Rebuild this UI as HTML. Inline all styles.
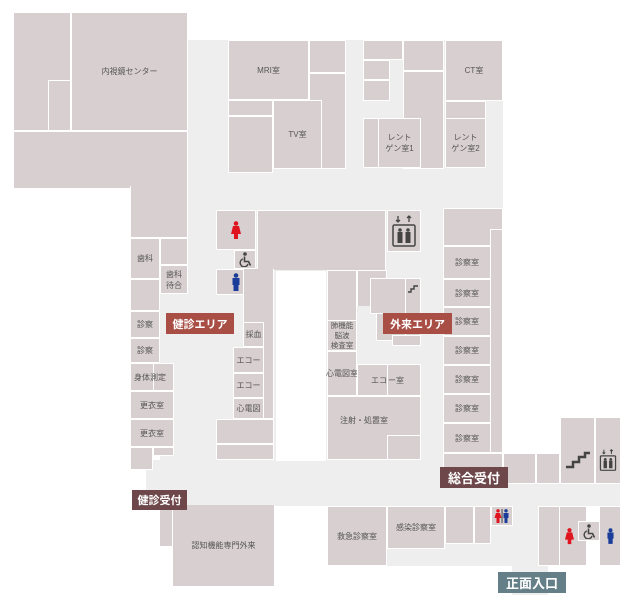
<!DOCTYPE html><html><head><meta charset="utf-8"><style>
body{margin:0;width:627px;height:605px;background:#fff;position:relative;overflow:hidden;font-family:"Liberation Sans","Noto Sans CJK JP",sans-serif}
div{position:absolute;box-sizing:border-box}
.g{background:#eeeeee}
.r{background:#d8cfd0;border:1px solid #fff;color:#555;font-size:8px;display:flex;align-items:center;justify-content:center;text-align:center;line-height:11px}
.w{background:#fff;border:1px solid #fff}
.l{color:#fff;font-size:11px;font-weight:bold;display:flex;align-items:center;justify-content:center}
</style></head><body>
<svg width="0" height="0" style="position:absolute"><defs><g id="wc"><circle cx="6" cy="2" r="1.8" fill="#444"/><path d="M5.5 4.5v5h4l2 4" stroke="#444" stroke-width="1.6" fill="none"/><path d="M4 7a4 4 0 1 0 5 5" stroke="#444" stroke-width="1.4" fill="none"/></g></defs></svg>
<div class="g" style="left:188px;top:40px;width:315px;height:425px"></div>
<div class="g" style="left:160px;top:292px;width:30px;height:175px"></div>
<div class="g" style="left:146px;top:460px;width:474px;height:46px"></div>
<div class="g" style="left:386px;top:505px;width:152px;height:61px"></div>
<div class="g" style="left:512px;top:565px;width:36px;height:30px"></div>

<div class="r" style="left:13px;top:131px;width:175px;height:58px"></div>
<div class="r" style="left:130px;top:186px;width:58px;height:52px;border-top:0"></div>
<div class="r" style="left:13px;top:12px;width:58px;height:119px"></div>
<div class="r" style="left:48px;top:80px;width:23px;height:51px"></div>
<div class="r" style="left:71px;top:12px;width:117px;height:119px">内視鏡センター</div>
<div class="r" style="left:130px;top:238px;width:30px;height:41px">歯科</div>
<div class="r" style="left:160px;top:238px;width:28px;height:27px"></div>
<div class="r" style="left:160px;top:265px;width:28px;height:29px">歯科<br>待合</div>
<div class="r" style="left:130px;top:279px;width:30px;height:32px"></div>
<div class="r" style="left:130px;top:311px;width:30px;height:27px">診察</div>
<div class="r" style="left:130px;top:338px;width:30px;height:25px">診察</div>
<div class="r" style="left:153px;top:363px;width:21px;height:28px"></div>
<div class="r" style="left:130px;top:363px;width:23px;height:28px;border-right:0"></div>
<div style="left:134px;top:372px;font-size:8px;color:#555;white-space:nowrap">身体測定</div>
<div class="r" style="left:130px;top:391px;width:44px;height:28px">更衣室</div>
<div class="r" style="left:130px;top:419px;width:44px;height:28px">更衣室</div>
<div class="r" style="left:130px;top:447px;width:23px;height:23px"></div>
<div class="r" style="left:153px;top:447px;width:21px;height:9px"></div>

<div class="r" style="left:228px;top:40px;width:81px;height:60px">MRI室</div>
<div class="r" style="left:309px;top:40px;width:37px;height:33px"></div>
<div class="r" style="left:309px;top:73px;width:37px;height:96px"></div>
<div class="r" style="left:228px;top:100px;width:45px;height:16px"></div>
<div class="r" style="left:228px;top:116px;width:45px;height:57px"></div>
<div class="r" style="left:273px;top:100px;width:49px;height:69px">TV室</div>
<div class="r" style="left:363px;top:40px;width:40px;height:20px"></div>
<div class="r" style="left:363px;top:60px;width:27px;height:20px"></div>
<div class="r" style="left:363px;top:80px;width:27px;height:21px"></div>
<div class="r" style="left:403px;top:40px;width:41px;height:31px"></div>
<div class="r" style="left:403px;top:71px;width:41px;height:98px"></div>
<div class="r" style="left:363px;top:118px;width:21px;height:50px"></div>
<div class="r" style="left:378px;top:118px;width:43px;height:50px">レント<br>ゲン室1</div>
<div class="r" style="left:445px;top:40px;width:58px;height:61px">CT室</div>
<div class="r" style="left:445px;top:101px;width:41px;height:18px"></div>
<div class="r" style="left:445px;top:118px;width:41px;height:50px">レント<br>ゲン室2</div>

<div class="r" style="left:216px;top:210px;width:40px;height:40px"><svg width="10" height="18" viewBox="0 0 10 18"><circle cx="5" cy="2.5" r="2.3" fill="#e0141e"/><path d="M2 5h6l2 8H7v5H3v-5H0z" fill="#e0141e"/></svg></div>
<div class="r" style="left:234px;top:250px;width:22px;height:19px"><svg width="13" height="15" viewBox="0 0 13 15"><use href="#wc"/></svg></div>
<div class="r" style="left:216px;top:269px;width:40px;height:26px"><svg width="8" height="18" viewBox="0 0 8 18"><circle cx="4" cy="2.5" r="2.3" fill="#1a3d9a"/><rect x="0.5" y="5" width="7" height="7" fill="#1a3d9a"/><rect x="1.5" y="11" width="5" height="7" fill="#1a3d9a"/></svg></div>
<div class="r" style="left:257px;top:210px;width:129px;height:60px;border-bottom:0"></div>
<div class="r" style="left:243px;top:269px;width:31px;height:150px;border-top:0"></div>
<div class="r" style="left:243px;top:322px;width:21px;height:25px">採血</div>
<div class="r" style="left:233px;top:347px;width:31px;height:26px">エコー</div>
<div class="r" style="left:233px;top:373px;width:31px;height:25px">エコー</div>
<div class="r" style="left:233px;top:398px;width:31px;height:21px">心電図</div>
<div class="r" style="left:216px;top:419px;width:58px;height:25px"></div>
<div class="r" style="left:216px;top:444px;width:58px;height:16px"></div>
<div class="w" style="left:276px;top:271px;width:50px;height:190px"></div>
<div class="r" style="left:327px;top:270px;width:30px;height:51px"></div>
<div class="r" style="left:327px;top:320px;width:30px;height:31px;font-size:7.5px;line-height:10px">肺機能<br>脳波<br>検査室</div>
<div class="r" style="left:327px;top:351px;width:30px;height:45px;white-space:nowrap">心電図室</div>
<div class="r" style="left:357px;top:270px;width:30px;height:36px;border-bottom:0"></div>
<div class="r" style="left:370px;top:278px;width:36px;height:36px"></div>
<div class="r" style="left:376px;top:313px;width:30px;height:28px"></div>
<div class="r" style="left:405px;top:278px;width:16px;height:58px;align-items:flex-start;padding-top:5px"><svg width="10" height="9" viewBox="0 0 10 9"><path d="M0 8h3V5h3V2h4" stroke="#444" stroke-width="1.4" fill="none"/></svg></div>
<div class="r" style="left:392px;top:335px;width:29px;height:11px"></div>
<div class="r" style="left:387px;top:210px;width:34px;height:42px"><svg width="24" height="32" viewBox="0 0 24 32"><path d="M6 1v6M4 5l2 2 2-2M17 7V1M15 3l2-2 2 2" stroke="#444" stroke-width="1.3" fill="none"/><rect x="1" y="10" width="22" height="21" rx="1.5" fill="none" stroke="#444" stroke-width="1.5"/><circle cx="8" cy="15" r="1.8" fill="#444"/><circle cx="16" cy="15" r="1.8" fill="#444"/><rect x="5.5" y="17" width="5" height="11" fill="#444"/><rect x="13.5" y="17" width="5" height="11" fill="#444"/></svg></div>
<div class="r" style="left:357px;top:364px;width:31px;height:32px;justify-content:flex-end">エコ</div>
<div class="r" style="left:387px;top:364px;width:34px;height:32px;justify-content:flex-start">ー室</div>
<div class="r" style="left:327px;top:396px;width:94px;height:64px;align-items:flex-start;padding-top:18px;padding-right:20px">注射・処置室</div>
<div class="r" style="left:387px;top:435px;width:34px;height:25px"></div>

<div class="r" style="left:443px;top:208px;width:60px;height:38px"></div>
<div class="r" style="left:490px;top:229px;width:13px;height:224px"></div>
<div class="r" style="left:443px;top:246px;width:48px;height:33px">診察室</div>
<div class="r" style="left:443px;top:279px;width:48px;height:28px">診察室</div>
<div class="r" style="left:443px;top:307px;width:48px;height:29px">診察室</div>
<div class="r" style="left:443px;top:336px;width:48px;height:29px">診察室</div>
<div class="r" style="left:443px;top:365px;width:48px;height:29px">診察室</div>
<div class="r" style="left:443px;top:394px;width:48px;height:29px">診察室</div>
<div class="r" style="left:443px;top:423px;width:48px;height:30px">診察室</div>
<div class="r" style="left:443px;top:453px;width:60px;height:31px"></div>
<div class="r" style="left:503px;top:453px;width:33px;height:31px"></div>
<div class="r" style="left:536px;top:453px;width:24px;height:31px"></div>
<div class="r" style="left:560px;top:417px;width:35px;height:67px;padding-top:18px"><svg width="26" height="18" viewBox="0 0 26 18"><path d="M1 16h7v-5h6V6h6V2h5" stroke="#444" stroke-width="2.5" fill="none"/></svg></div>
<div class="r" style="left:595px;top:417px;width:26px;height:67px;padding-top:18px"><svg width="18" height="22" viewBox="0 0 24 32"><path d="M6 1v6M4 5l2 2 2-2M17 7V1M15 3l2-2 2 2" stroke="#444" stroke-width="1.5" fill="none"/><rect x="1" y="10" width="22" height="21" rx="1.5" fill="none" stroke="#444" stroke-width="1.8"/><circle cx="8" cy="15" r="2" fill="#444"/><circle cx="16" cy="15" r="2" fill="#444"/><rect x="5.5" y="17" width="5" height="11" fill="#444"/><rect x="13.5" y="17" width="5" height="11" fill="#444"/></svg></div>

<div class="r" style="left:159px;top:505px;width:28px;height:42px"></div>
<div class="r" style="left:172px;top:505px;width:103px;height:82px;border-top:0">認知機能専門外来</div>
<div class="r" style="left:327px;top:506px;width:60px;height:60px">救急診察室</div>
<div class="r" style="left:387px;top:506px;width:58px;height:43px">感染診察室</div>
<div class="r" style="left:445px;top:506px;width:29px;height:38px"></div>
<div class="r" style="left:474px;top:506px;width:17px;height:38px"></div>
<div class="r" style="left:491px;top:506px;width:22px;height:20px"><svg width="16" height="14" viewBox="0 0 16 14"><circle cx="4" cy="1.8" r="1.7" fill="#e0141e"/><path d="M2 4h4l1.5 5H5.5v5h-3V9H.5z" fill="#e0141e"/><rect x="7.6" y="0" width="0.9" height="14" fill="#333"/><circle cx="12" cy="1.8" r="1.7" fill="#1a3d9a"/><rect x="9.5" y="4" width="5" height="5" fill="#1a3d9a"/><rect x="10.5" y="8" width="3" height="6" fill="#1a3d9a"/></svg></div>
<div class="r" style="left:538px;top:506px;width:23px;height:60px"></div>
<div class="r" style="left:559px;top:506px;width:28px;height:60px;justify-content:flex-start;padding-left:5px"><svg width="9" height="18" viewBox="0 0 10 18"><circle cx="5" cy="2.5" r="2.3" fill="#e0141e"/><path d="M2 5h6l2 8H7v5H3v-5H0z" fill="#e0141e"/></svg></div>
<div class="r" style="left:578px;top:521px;width:23px;height:20px"><svg width="13" height="15" viewBox="0 0 13 15"><use href="#wc"/></svg></div>
<div class="r" style="left:599px;top:506px;width:22px;height:60px"><svg width="7" height="18" viewBox="0 0 8 18"><circle cx="4" cy="2.5" r="2.3" fill="#1a3d9a"/><rect x="0.5" y="5" width="7" height="7" fill="#1a3d9a"/><rect x="1.5" y="11" width="5" height="7" fill="#1a3d9a"/></svg></div>

<div class="l" style="left:166px;top:313px;width:68px;height:21px;background:#a84e45">健診エリア</div>
<div class="l" style="left:383px;top:313px;width:69px;height:21px;background:#a84e45">外来エリア</div>
<div class="l" style="left:132px;top:490px;width:55px;height:20px;background:#6d474a">健診受付</div>
<div class="l" style="left:440px;top:467px;width:68px;height:21px;background:#6d474a;font-size:13px">総合受付</div>
<div class="l" style="left:498px;top:572px;width:68px;height:21px;background:#647f87;font-size:13px">正面入口</div>
</body></html>
